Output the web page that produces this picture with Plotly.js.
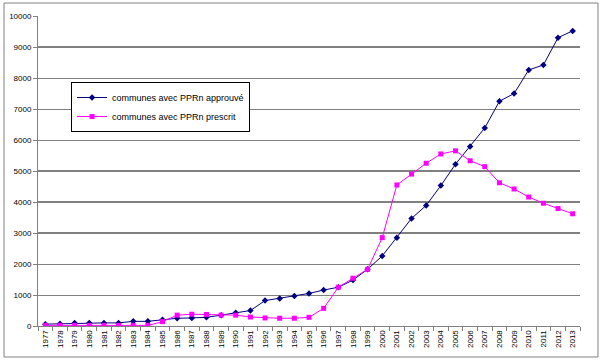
<!DOCTYPE html>
<html><head><meta charset="utf-8">
<script src="https://cdn.plot.ly/plotly-3.0.1.min.js"></script>
<style>body{margin:0;background:#fff}#c{width:604px;height:363px}</style>
</head><body><div id="c"></div>
<script>
const years = ["1977","1978","1979","1980","1981","1982","1983","1984","1985","1986","1987","1988","1989","1990","1991","1992","1993","1994","1995","1996","1997","1998","1999","2000","2001","2002","2003","2004","2005","2006","2007","2008","2009","2010","2011","2012","2013"];
const approuve = [60,70,100,100,100,100,150,150,200,250,260,280,350,430,500,820,890,970,1050,1160,1250,1480,1830,2260,2850,3470,3890,4530,5220,5790,6390,7250,7500,8260,8420,9300,9520];
const prescrit = [20,20,20,20,20,20,20,20,140,350,380,370,350,350,290,260,250,250,280,570,1250,1540,1830,2850,4550,4900,5250,5550,5650,5330,5140,4620,4420,4160,3960,3790,3620];
const yTicks = [0,1000,2000,3000,4000,5000,6000,7000,8000,9000,10000];
const yTickText = ["0","1000","2000","3000","4000","5000","6000","7000","8000","9000","10000"];
const blackGrid = [3000,4000,5000,9000];

const traces = [
  {x: years, y: approuve, type:'scatter', mode:'lines+markers', name:'communes avec PPRn approuvé',
   line:{color:'#000080', width:1}, marker:{symbol:'diamond', size:5, color:'#000080'}},
  {x: years, y: prescrit, type:'scatter', mode:'lines+markers', name:'communes avec PPRn prescrit',
   line:{color:'#FF00FF', width:1}, marker:{symbol:'square', size:5, color:'#FF00FF'}}
];
const shapes = blackGrid.map(v => ({type:'line', xref:'paper', yref:'y', x0:0, x1:1, y0:v, y1:v, line:{color:'#000', width:1}, layer:'below'}));
shapes.push({type:'rect', xref:'paper', yref:'paper', x0:-0.0627, x1:1.0332, y0:-0.1, y1:1.0419, line:{color:'#808080', width:1}, fillcolor:'rgba(0,0,0,0)'});
const layout = {
  width:604, height:363,
  margin:{l:38, r:24, t:16, b:37},
  paper_bgcolor:'#fff', plot_bgcolor:'#fff',
  font:{family:'Liberation Sans, Arial, sans-serif', size:8, color:'#000'},
  showlegend:true,
  legend:{x:0.061, y:0.787, xanchor:'left', yanchor:'top', bgcolor:'#fff', bordercolor:'#000', borderwidth:1,
          font:{size:9}, tracegroupgap:0, itemwidth:30},
  xaxis:{type:'category', tickangle:-90, ticks:'outside', tickson:'boundaries', ticklen:4, tickcolor:'#808080',
         showgrid:false, showline:true, linecolor:'#808080', zeroline:false, range:[-0.5,36.5], fixedrange:true,
         tickfont:{size:8}},
  yaxis:{range:[0,10000], tickvals:yTicks, ticktext:yTickText, ticks:'outside', ticklen:4, tickcolor:'#808080', showline:true, linecolor:'#808080',
         gridcolor:'#808080', gridwidth:1, zeroline:false, tickfont:{size:8}, fixedrange:true},
  shapes: shapes
};
Plotly.newPlot('c', traces, layout, {displayModeBar:false, staticPlot:true});
</script></body></html>
